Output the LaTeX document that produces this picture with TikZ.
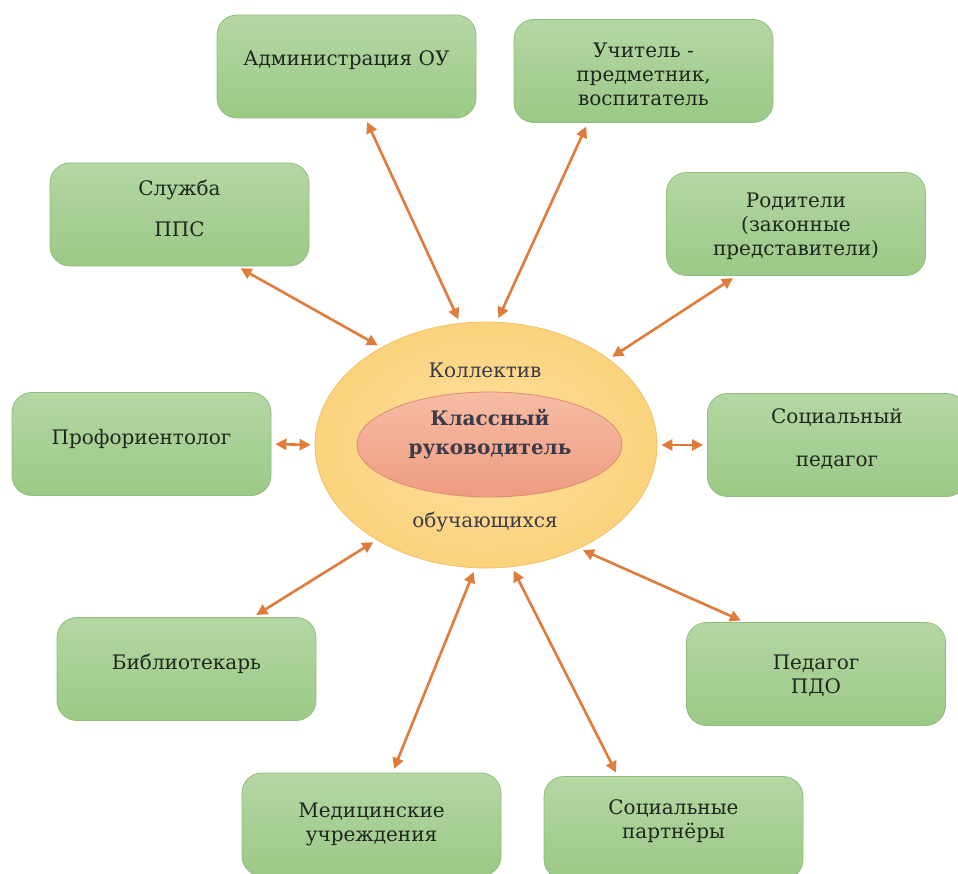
\documentclass[tikz,border=0pt]{standalone}
\usepackage{fontspec}
\setmainfont{DejaVu Serif}
\usetikzlibrary{arrows.meta,shapes.geometric}
\definecolor{boxtop}{HTML}{B4D7A4}
\definecolor{boxbot}{HTML}{9BC986}
\definecolor{boxline}{HTML}{8FBD7A}
\definecolor{outerin}{HTML}{FDE1A0}
\definecolor{outerout}{HTML}{FBD27C}
\definecolor{outerline}{HTML}{F2C068}
\definecolor{innertop}{HTML}{F6BCA4}
\definecolor{innerbot}{HTML}{EE9C81}
\definecolor{innerline}{HTML}{E08B6E}
\definecolor{arr}{HTML}{E07B39}
\definecolor{txt}{HTML}{1E261E}
\definecolor{ctxt}{HTML}{3A3A48}
\begin{document}
\begin{tikzpicture}[x=1pt,y=-1pt,
  greenbox/.style={rectangle, rounded corners=20pt, draw=boxline, line width=0.8pt,
    top color=boxtop, bottom color=boxbot, minimum width=259pt, minimum height=103pt, inner sep=0pt},
  lbl/.style={font=\fontsize{20}{24}\selectfont, text=txt, align=center, inner sep=0pt},
  clbl/.style={font=\fontsize{20}{29}\selectfont, text=ctxt, align=center, inner sep=0pt},
  link/.style={draw=arr, line width=2.6pt,
    {Triangle[width=11pt,length=11pt]}-{Triangle[width=11pt,length=11pt]},
    shorten <=4pt, shorten >=4pt}]
\useasboundingbox (0,0) rectangle (958,873);
% central ellipses
\node[ellipse, minimum width=342pt, minimum height=246pt, inner sep=0pt, draw=outerline,
  line width=0.8pt, inner color=outerin, outer color=outerout] (outer) at (486,445) {};
\node[ellipse, minimum width=265pt, minimum height=105pt, inner sep=0pt, draw=innerline,
  line width=0.8pt, top color=innertop, bottom color=innerbot] (inner) at (489.5,444.5) {};
\node[clbl] (kol) at (485,370) {Коллектив};
\node[clbl, font=\fontsize{20}{29}\selectfont\bfseries] (kr) at (490,434) {Классный\\руководитель};
\node[clbl] (obu) at (485,522) {обучающихся};
% boxes
\node[greenbox] (adm) at (346.5,66.5) {};
\node[greenbox] (uch) at (643.5,71) {};
\node[greenbox] (sl) at (179.5,214.5) {};
\node[greenbox] (rod) at (796,224) {};
\node[greenbox] (prof) at (141.5,444) {};
\node[greenbox] (soc) at (837,445) {};
\node[greenbox] (bib) at (186.5,669) {};
\node[greenbox] (pdo) at (816,674) {};
\node[greenbox] (med) at (371.5,824.5) {};
\node[greenbox] (par) at (673.5,828) {};
% labels
\node[lbl] (adm-t) at (346.5,60) {Администрация ОУ};
\node[lbl] (uch-t) at (643.5,74) {Учитель -\\предметник,\\воспитатель};
\node[lbl] (sl-t) at (179.5,208) {Служба\\[17pt]ППС};
\node[lbl] (rod-t) at (796,226) {Родители\\(законные\\представители)};
\node[lbl] (prof-t) at (141.5,439) {Профориентолог};
\node[lbl] (soc-t) at (837,439) {Социальный\\[19pt]педагог};
\node[lbl] (bib-t) at (186.5,664) {Библиотекарь};
\node[lbl] (pdo-t) at (816,676) {Педагог\\ПДО};
\node[lbl] (med-t) at (371.5,824) {Медицинские\\учреждения};
\node[lbl] (par-t) at (673.5,821) {Социальные\\партнёры};
% connectors
\draw[link] (adm.-70) -- (outer.102);
\draw[link] (uch.-137) -- (outer.85);
\draw[link] (sl.-42) -- (outer.137);
\draw[link] (rod.-139) -- (outer.35);
\draw[link] (prof.east) -- (outer.west);
\draw[link] (outer.east) -- (soc.west);
\draw[link] (bib.38) -- (outer.-139);
\draw[link] (pdo.144) -- (outer.-48);
\draw[link] (med.68) -- (outer.-95);
\draw[link] (par.137) -- (outer.-78);
\end{tikzpicture}
\end{document}
